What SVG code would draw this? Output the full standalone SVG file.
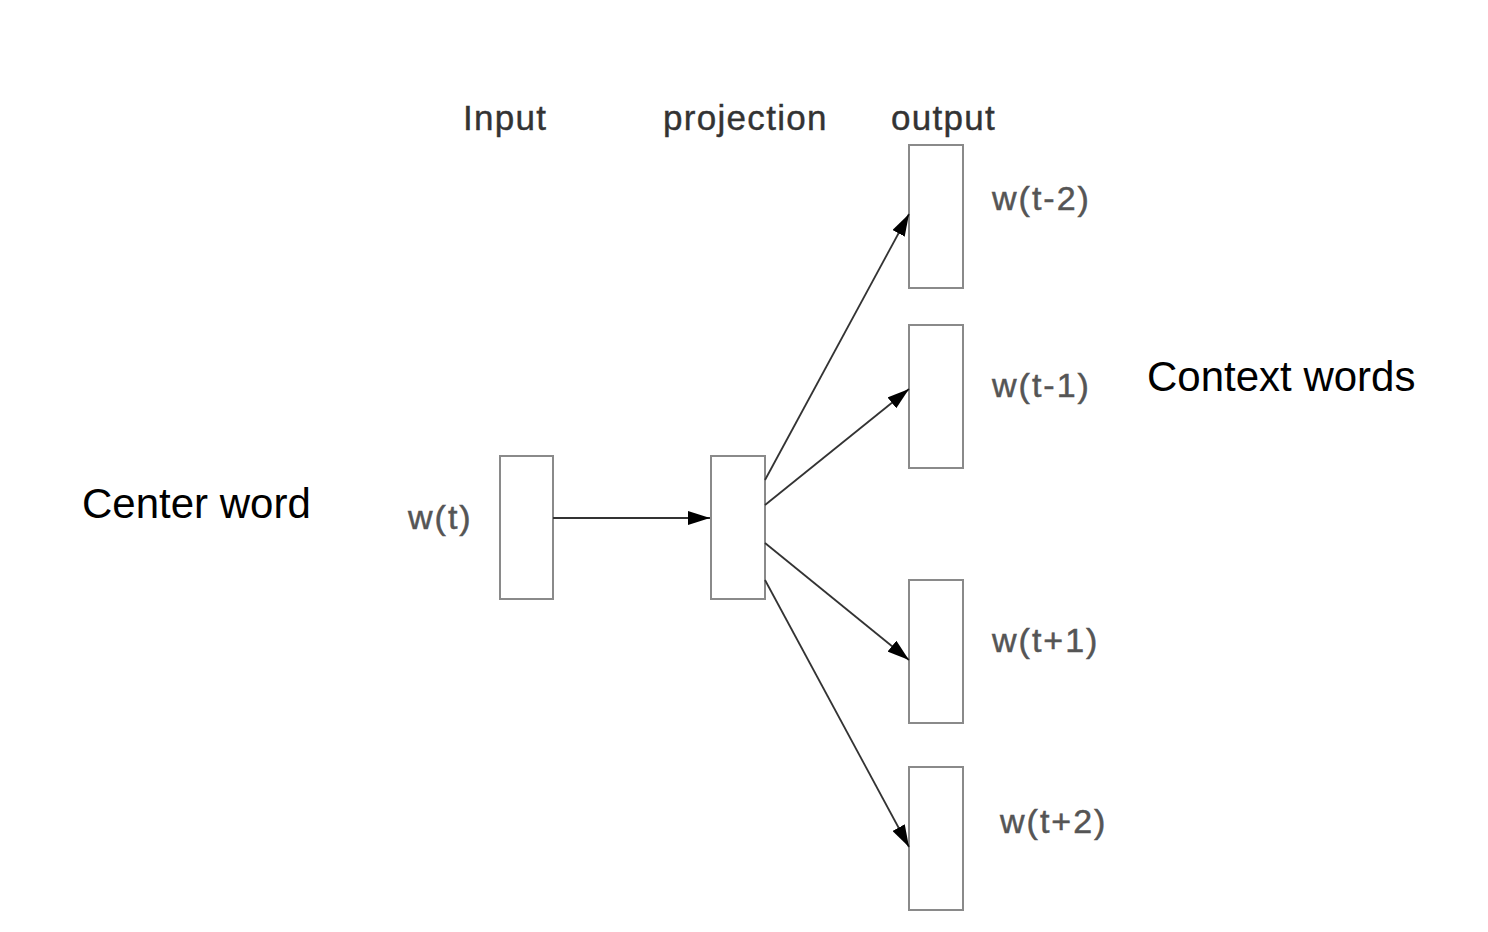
<svg xmlns="http://www.w3.org/2000/svg" width="1488" height="932" viewBox="0 0 1488 932">
<style>
.box{fill:#fff;stroke:#8a8a8a;stroke-width:2}
.hdr{font-family:"Liberation Sans",Arial,sans-serif;font-size:35px;fill:#333;letter-spacing:1.3px;stroke:#333;stroke-width:0.4}
.wl{font-family:"Liberation Sans",Arial,sans-serif;font-size:34px;fill:#555;letter-spacing:2px;stroke:#555;stroke-width:0.5}
.big{font-family:"Liberation Sans",Arial,sans-serif;font-size:42px;fill:#000}
.conn{stroke:#333;stroke-width:1.8;fill:none;marker-end:url(#ah)}
</style>
<defs>
<marker id="ah" markerWidth="22" markerHeight="14" refX="22" refY="7" orient="auto" markerUnits="userSpaceOnUse">
<path d="M0,0 L22,7 L0,14 Z" fill="#000"/>
</marker>
</defs>
<rect width="1488" height="932" fill="#fff"/>
<text class="hdr" x="463" y="130">Input</text>
<text class="hdr" x="663" y="130">projection</text>
<text class="hdr" x="891" y="130">output</text>
<text class="big" x="82" y="518">Center word</text>
<text class="big" x="1147" y="391">Context words</text>
<g id="input"><rect class="box" x="500" y="456" width="53" height="143"/><text class="wl" x="408" y="529">w(t)</text></g>
<g id="projection"><rect class="box" x="711" y="456" width="54" height="143"/></g>
<g id="out-t-2"><rect class="box" x="909" y="145" width="54" height="143"/><text class="wl" x="992" y="210">w(t-2)</text></g>
<g id="out-t-1"><rect class="box" x="909" y="325" width="54" height="143"/><text class="wl" x="992" y="397">w(t-1)</text></g>
<g id="out-t+1"><rect class="box" x="909" y="580" width="54" height="143"/><text class="wl" x="992" y="652">w(t+1)</text></g>
<g id="out-t+2"><rect class="box" x="909" y="767" width="54" height="143"/><text class="wl" x="1000" y="833">w(t+2)</text></g>
<g id="connectors">
<line class="conn" x1="553" y1="518" x2="710" y2="518"/>
<line class="conn" x1="765" y1="480" x2="909" y2="214"/>
<line class="conn" x1="765" y1="505" x2="909" y2="389"/>
<line class="conn" x1="765" y1="543" x2="909" y2="660"/>
<line class="conn" x1="765" y1="580" x2="909" y2="847"/>
</g>
</svg>
